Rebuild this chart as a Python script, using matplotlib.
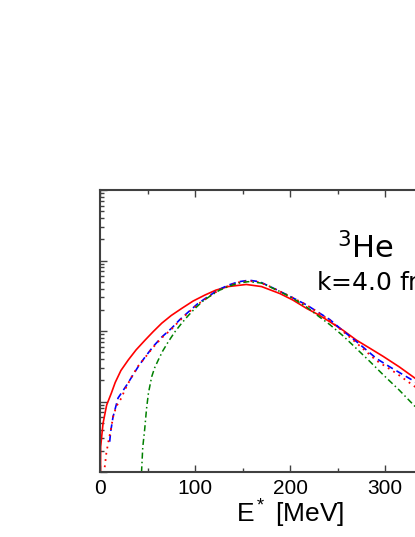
import matplotlib
matplotlib.use('Agg')
import matplotlib.pyplot as plt
from matplotlib.ticker import LogLocator, NullFormatter, MultipleLocator, FixedLocator

plt.rcParams['font.family'] = ['Liberation Sans', 'DejaVu Sans']
plt.rcParams['mathtext.fontset'] = 'custom'
plt.rcParams['mathtext.rm'] = 'Liberation Sans'
plt.rcParams['mathtext.it'] = 'Liberation Sans'

# excitation energy [MeV] and spectrum (arbitrary units)
e_solid = [0.3, 0.7, 3.2, 7, 12, 16, 22, 29.8, 38, 47.4, 56, 65, 75, 86, 98,
           110.5, 122, 135, 154, 170, 189.5, 203, 217.5, 230, 242, 256, 270,
           284, 298, 315, 331.6, 360, 400]
v_solid = [0.316, 2.29, 4.9, 8.9, 13.2, 18.6, 27.5, 38.9, 54, 74.1, 98, 129,
           166, 209, 266, 324, 380, 427, 457, 427, 339, 275, 209, 170, 135,
           102, 74.1, 57, 43.7, 31, 21.4, 11.2, 5.0]

e_dash = [10.2, 11.2, 13.7, 19, 28, 40, 47.4, 56, 65, 75.5, 84, 93, 103, 114,
          124, 135, 146, 157, 168, 179, 198, 217.5, 242, 256, 270, 291, 305,
          319, 331.6, 360, 400]
v_dash = [2.69, 3.72, 6.03, 11.2, 17.0, 30.9, 42.7, 60.3, 82, 110, 145, 186,
          245, 309, 380, 447, 500, 525, 500, 427, 320, 234, 145, 100, 70.8,
          40.7, 31, 24.0, 19.1, 10.0, 4.0]

e_dot = [4.5, 4.9, 6.7, 9.1, 12, 13.7, 17.2, 22.5, 26, 33, 40, 48, 56, 65,
         75.5, 84, 93, 103, 114, 124, 135, 146, 157, 168, 179, 198, 217.5,
         242, 256, 270, 291, 312, 331.6, 360, 400]
v_dot = [0.63, 1.15, 1.86, 2.82, 4.37, 6.03, 8.51, 11.2, 14.5, 22, 31.6, 43,
         58.9, 80, 107, 141, 182, 240, 302, 372, 437, 490, 513, 490, 427,
         320, 234, 141, 98, 67.6, 38.0, 25.1, 16.2, 7.94, 3.16]

e_dashdot = [43, 45, 47, 49, 51, 54.4, 57.5, 61.4, 66, 72, 79, 86, 93, 100,
             108, 117.5, 126, 135, 145, 156, 170, 189.5, 203, 217.5, 230, 242,
             256, 270, 284, 298, 315, 331.6, 360, 400]
v_dashdot = [0.63, 2.24, 3.98, 7.94, 13.2, 22.4, 30, 38.9, 52, 70.8, 98, 129,
             166, 209, 263, 324, 380, 427, 475, 501, 479, 363, 290, 219, 162,
             123, 85, 56.2, 37, 24.0, 14.5, 8.51, 3.55, 1.0]

fig = plt.figure(figsize=(4.15, 5.37), dpi=100)
ax = fig.add_axes([100 / 415, 65 / 537, 380 / 415, 282 / 537])

ax.plot(e_solid, v_solid, color='#ff0000', lw=1.2, ls='-')
ax.plot(e_dash, v_dash, color='#0000ff', lw=1.2, ls=(0, (4, 2.5)))
ax.plot(e_dot, v_dot, color='#ff0000', lw=1.3, ls=(0, (1, 2.5)))
ax.plot(e_dashdot, v_dashdot, color='#008000', lw=1.1, ls=(0, (4, 2, 1, 2)))

ax.set_yscale('log')
ax.set_xlim(0, 400)
ax.set_ylim(1, 1e4)

ax.xaxis.set_major_locator(FixedLocator([0, 100, 200, 300]))
ax.xaxis.set_minor_locator(MultipleLocator(50))
ax.yaxis.set_major_locator(LogLocator(base=10))
ax.yaxis.set_minor_locator(LogLocator(base=10, subs=range(2, 10)))
ax.yaxis.set_major_formatter(NullFormatter())
ax.yaxis.set_minor_formatter(NullFormatter())

ax.tick_params(which='both', direction='in', top=True, right=True,
               color='#404040', width=1.0)
ax.tick_params(which='major', length=5, labelsize=15, pad=5)
ax.tick_params(which='minor', length=3)
for s in ax.spines.values():
    s.set_color('#404040')
    s.set_linewidth(1.5)

ax.set_xlabel(r'E$^*$ [MeV]', fontsize=19, labelpad=0)

ax.text(249, 1070, r'$^3$He', fontsize=22, va='baseline', ha='left',
        family='DejaVu Sans', math_fontfamily='dejavusans')
ax.text(227, 361, r'k=4.0 fm$^{-1}$', fontsize=18, va='baseline', ha='left',
        family='DejaVu Sans', math_fontfamily='dejavusans')

fig.savefig('out.png', dpi=100)
